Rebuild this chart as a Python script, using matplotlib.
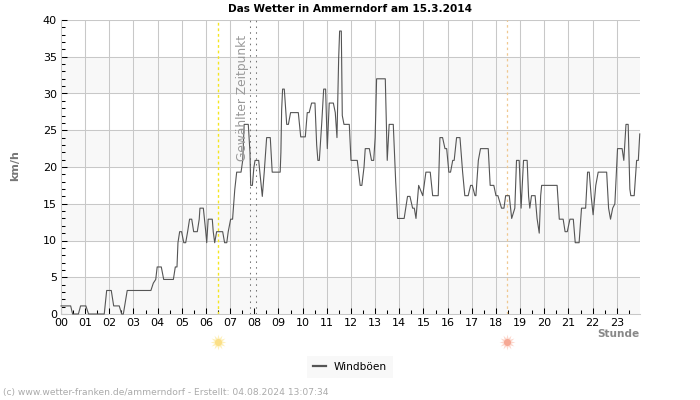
import matplotlib
matplotlib.use("Agg")
import matplotlib.pyplot as plt

hours = [0,0.4,0.48,0.72,0.81,1.03,1.14,1.79,1.89,2.08,2.18,2.41,2.51,2.58,2.74,3.72,3.82,3.92,3.98,4.15,4.25,4.65,4.73,4.8,4.84,4.91,4.99,5.08,5.16,5.24,5.32,5.41,5.49,5.64,5.72,5.75,5.89,5.99,6.03,6.09,6.26,6.3,6.36,6.44,6.69,6.77,6.86,6.92,7.02,7.1,
7.19,7.27,7.45,7.52,7.58,7.75,7.82,7.85,7.92,7.98,8.03,8.18,8.23,8.33,8.41,8.51,8.66,8.74,9.07,9.10,9.13,9.17,9.24,9.34,9.41,9.50,9.82,9.92,10.11,10.19,10.27,10.37,10.51,10.58,10.63,10.69,10.79,10.87,10.95,11.02,11.10,11.27,11.35,11.42,11.49,11.53,11.60,11.64,11.71,11.93,12.00,12.26,12.38,12.45,12.54,12.59,12.76,12.85,12.94,13.0,13.06,13.42,13.5,13.58,13.75,13.85,13.93,14.2,14.34,14.44,14.55,14.62,14.69,14.80,14.97,15.10,15.28,15.38,15.61,15.68,15.79,15.89,15.96,
16.05,16.12,16.21,16.27,16.37,16.51,16.62,16.71,16.85,16.95,17.02,17.13,17.17,17.27,17.36,17.68,17.76,17.91,18.0,18.08,18.23,18.33,18.40,18.55,18.65,18.78,18.85,18.96,19.04,19.14,19.29,19.35,19.40,19.47,19.62,19.70,19.79,19.85,19.89,20.53,20.62,20.78,20.86,20.95,21.06,21.2,21.28,21.44,21.54,21.71,21.79,21.86,21.94,22.02,22.13,22.23,22.58,22.66,22.74,22.83,22.92,23.03,23.22,23.29,23.38,23.47,23.54,23.58,23.72,23.82,23.89,23.95]
gusts = [1.1,1.1,0,0,1.1,1.1,0,0,3.2,3.2,1.1,1.1,0,0,3.2,3.2,4.2,4.7,6.4,6.4,4.7,4.7,6.4,6.4,9.7,11.2,11.2,9.7,9.7,11.2,12.9,12.9,11.2,11.2,12.9,14.4,14.4,11.2,9.7,12.9,12.9,11.2,9.7,11.2,11.2,9.7,9.7,11.2,12.9,12.9,
16.9,19.3,19.3,20.9,25.8,25.8,22,17.5,17.5,19.9,20.9,20.9,19.3,16,19.3,24,24,19.3,19.3,22,27.7,30.6,30.6,25.8,25.8,27.4,27.4,24.1,24.1,27.4,27.4,28.7,28.7,23,20.9,20.9,26,30.6,30.6,22.5,28.7,28.7,27.4,24,34.8,38.5,38.5,27,25.8,25.8,20.9,20.9,17.5,17.5,20,22.5,22.5,20.9,20.9,24,32,32,20.9,25.8,25.8,18,13,13,16,16,14.4,14.4,13,17.5,16.1,19.3,19.3,16.1,16.1,24,24,22.5,22.5,
19.3,19.3,20.9,20.9,24,24,19.3,16.1,16.1,17.5,17.5,16.1,16.1,20.9,22.5,22.5,17.5,17.5,16.1,16.1,14.4,14.4,16.1,16.1,13,14.4,20.9,20.9,14.4,20.9,20.9,16,14.4,16.1,16.1,13,11,16.1,17.5,17.5,12.9,12.9,11.2,11.2,12.9,12.9,9.7,9.7,14.4,14.4,19.3,19.3,16,13.5,17.5,19.3,19.3,14.4,12.9,14.4,15,22.5,22.5,20.9,25.8,25.8,17,16.1,16.1,20.9,20.9,24.5]

hour_labels = [f"{h:02d}" for h in range(24)]
y_labels = list(range(0, 45, 5))
band_starts = [0, 10, 20, 30]
sunrise, sunset = 6.48, 18.45
selected = [7.82, 8.05]

W, H = 700, 400
fig = plt.figure(figsize=(7, 4), dpi=100, facecolor="white")
ax = fig.add_axes([61/W, 1-314/H, (640-61)/W, (314-20)/H])
ax.set_xlim(0, 23.96)
ax.set_ylim(0, 40)

for b in band_starts:
    ax.axhspan(b, b+5, color="#f8f8f8", lw=0, zorder=0)
ax.set_yticks(y_labels)
ax.set_yticklabels([str(v) for v in y_labels], fontsize=8)
ax.set_yticks(range(0, 41), minor=True)
ax.set_xticks(range(24))
ax.set_xticklabels(hour_labels, fontsize=8)
ax.set_xticks([h+0.5 for h in range(24)], minor=True)
ax.grid(True, which="major", color="#c8c8c8", lw=0.75, zorder=1)
ax.get_xgridlines()[8].set_visible(False)
ax.set_axisbelow(True)
ax.tick_params(axis="both", which="major", direction="in", length=4, width=0.75, color="black", pad=3)
ax.tick_params(axis="both", which="minor", direction="in", length=3, width=0.75, color="black")
for s in ("top", "right"):
    ax.spines[s].set_visible(False)
for s in ("left", "bottom"):
    ax.spines[s].set_color("#c8c8c8")
    ax.spines[s].set_linewidth(0.75)

ax.axvline(sunrise, color="#f5e620", lw=1.0, ls=(0, (2, 2)), zorder=2)
ax.axvline(sunset, color="#f0c890", lw=0.9, ls=(0, (2, 2.5)), zorder=2)
for s in selected:
    ax.axvline(s, color="#777777", lw=0.75, ls=(0, (1.5, 4)), zorder=2)

ax.plot(hours, gusts, color="#555555", lw=0.8, zorder=3, label="Windböen", clip_on=False)
ax.text(7.53, 29.45, "Gewählter Zeitpunkt", rotation=90, color="#999999", fontsize=8.8,
        ha="center", va="center", zorder=4)

fig.text(350/W, 1-9/H, "Das Wetter in Ammerndorf am 15.3.2014", fontsize=7.6, fontweight="bold",
         ha="center", va="center", color="black")
fig.text(15/W, 1-166/H, "km/h", fontsize=8, fontweight="bold", rotation=90, ha="center", va="center", color="#777777")
fig.text(639/W, 1-334/H, "Stunde", fontsize=7.6, fontweight="bold", ha="right", va="center", color="#888888")
fig.text(3/W, 1-393/H, "(c) www.wetter-franken.de/ammerndorf - Erstellt: 04.08.2024 13:07:34",
         fontsize=6.6, ha="left", va="center", color="#aaaaaa")

ax.scatter([sunrise], [-3.75], marker=(12, 1, 0), s=130, color="#fdf0bb", clip_on=False, lw=0, zorder=5)
ax.scatter([sunrise], [-3.75], marker="o", s=26, color="#fbdf86", clip_on=False, lw=0, zorder=6)
ax.scatter([sunset], [-3.75], marker=(12, 1, 0), s=130, color="#fcd8ce", clip_on=False, lw=0, zorder=5)
ax.scatter([sunset], [-3.75], marker="o", s=26, color="#f6a894", clip_on=False, lw=0, zorder=6)

leg = ax.legend(loc="center", bbox_to_anchor=((350-61)/(640-61), (314-367)/(314-20)), frameon=True, fontsize=7.6,
                facecolor="#f8f8f8", edgecolor="none", framealpha=1, fancybox=False,
                handlelength=1.2, handletextpad=0.8, borderpad=0.55)
for line in leg.get_lines():
    line.set_linewidth(1.6)

fig.savefig("out.png", dpi=100)
